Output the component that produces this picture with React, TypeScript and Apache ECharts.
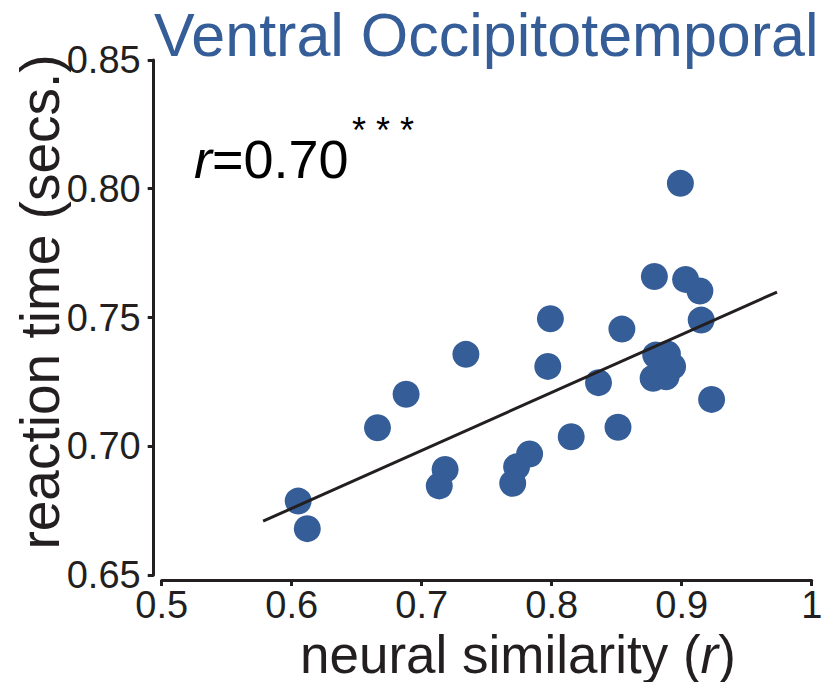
import React, { useEffect, useRef } from "react";
import * as echarts from "echarts";

// Neural similarity (r) vs. reaction time (secs.) per item
const similarity = [
  0.734, 0.688, 0.666, 0.605, 0.612, 0.718, 0.7135, 0.783, 0.773, 0.770,
  0.797, 0.799, 0.899, 0.879, 0.903, 0.914, 0.915, 0.854, 0.836, 0.880,
  0.889, 0.893, 0.878, 0.888, 0.923, 0.815, 0.851,
];
const reactionTime = [
  0.7357, 0.7202, 0.7072, 0.6787, 0.668, 0.691, 0.6846, 0.697, 0.692, 0.6856,
  0.731, 0.7495, 0.8021, 0.7659, 0.7648, 0.7603, 0.749, 0.7455, 0.7247, 0.7354,
  0.7358, 0.731, 0.7264, 0.727, 0.7182, 0.7037, 0.7074,
];

// Least-squares fit line end points
const fitX = [0.578, 0.9733];
const fitY = [0.6709, 0.7599];

const xTicks = [0.5, 0.6, 0.7, 0.8, 0.9, 1];
const yTicks = [0.65, 0.7, 0.75, 0.8, 0.85];

const titleText = "Ventral Occipitotemporal";
const corrText = "=0.70";
const starsText = "* * *";

const BLUE = "#355D98";
const INK = "#231F20";
const FONT = "'Liberation Sans', Arial, Helvetica, sans-serif";

export default function App() {
  const ref = useRef<HTMLDivElement>(null);

  useEffect(() => {
    if (!ref.current) return;
    const chart = echarts.init(ref.current, null, { renderer: "svg" });

    const points = similarity.map((x, i) => [x, reactionTime[i]]);
    const fit = fitX.map((x, i) => [x, fitY[i]]);

    const axisLine = { show: true, lineStyle: { color: INK, width: 3 } };
    const axisTick = { show: true, length: 6, lineStyle: { color: INK, width: 3 } };

    chart.setOption({
      animation: false,
      backgroundColor: "#ffffff",
      grid: { left: 161.7, top: 60, width: 650, height: 515, containLabel: false },
      xAxis: {
        type: "value",
        min: 0.5,
        max: 1,
        interval: 0.1,
        offset: 5,
        axisLine,
        axisTick,
        splitLine: { show: false },
        axisLabel: {
          color: INK,
          fontFamily: FONT,
          fontSize: 38,
          lineHeight: 30,
          margin: 10,
          formatter: (v: number) => {
            const t = xTicks.find((k) => Math.abs(k - v) < 1e-6);
            if (t === undefined) return "";
            return t === 1 ? "1" : t.toFixed(1);
          },
        },
      },
      yAxis: {
        type: "value",
        min: 0.65,
        max: 0.85,
        interval: 0.05,
        offset: 8,
        axisLine,
        axisTick,
        splitLine: { show: false },
        axisLabel: {
          color: INK,
          fontFamily: FONT,
          fontSize: 38,
          margin: 13,
          formatter: (v: number) => {
            const t = yTicks.find((k) => Math.abs(k - v) < 1e-6);
            return t === undefined ? "" : t.toFixed(2);
          },
        },
      },
      series: [
        {
          type: "scatter",
          data: points,
          symbol: "circle",
          symbolSize: 27,
          itemStyle: { color: BLUE, opacity: 1 },
          z: 2,
        },
        {
          type: "line",
          data: fit,
          symbol: "none",
          lineStyle: { color: INK, width: 3 },
          z: 3,
        },
      ],
      graphic: [
        {
          type: "text",
          x: 154,
          y: 65,
          style: {
            text: titleText,
            font: `61px ${FONT}`,
            fill: BLUE,
            textAlign: "left",
            textVerticalAlign: "bottom",
          },
        },
        {
          type: "text",
          x: 194,
          y: 186,
          style: {
            text: `{i|r}${corrText}`,
            font: `54px ${FONT}`,
            fill: "#000",
            textAlign: "left",
            textVerticalAlign: "bottom",
            rich: {
              i: { font: `italic 54px ${FONT}`, fill: "#000" },
            },
          },
        },
        {
          type: "text",
          x: 352,
          y: 148,
          style: {
            text: starsText,
            font: `36px ${FONT}`,
            fill: "#000",
            textAlign: "left",
            textVerticalAlign: "bottom",
          },
        },
        {
          type: "text",
          x: 300,
          y: 676,
          style: {
            text: "{n|neural similarity (}{i|r}{n|)}",
            font: `53px ${FONT}`,
            lineHeight: 44,
            fill: INK,
            textAlign: "left",
            textVerticalAlign: "bottom",
            rich: {
              n: { font: `53px ${FONT}`, fill: INK, lineHeight: 44 },
              i: { font: `italic 53px ${FONT}`, fill: INK, lineHeight: 44 },
            },
          },
        },
        {
          type: "text",
          x: 40,
          y: 302,
          rotation: Math.PI / 2,
          style: {
            text: "reaction time (secs.)",
            font: `55px ${FONT}`,
            fill: INK,
            textAlign: "center",
            textVerticalAlign: "middle",
          },
        },
      ],
    });

    return () => chart.dispose();
  }, []);

  return (
    <div
      ref={ref}
      style={{ position: "fixed", left: 0, top: 0, width: 830, height: 682 }}
    />
  );
}
